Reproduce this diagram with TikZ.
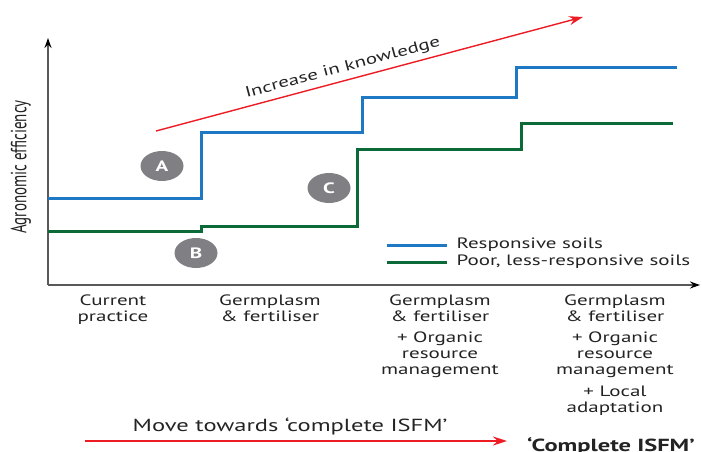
\documentclass[tikz,border=0pt]{standalone}
\usepackage{fontspec}
\setmainfont{PT Sans}[FakeStretch=1.4]
\newfontfamily\ylabfont{PT Sans}[FakeStretch=0.68]
\usetikzlibrary{shapes.geometric,arrows.meta}
\definecolor{respblue}{RGB}{30,120,196}
\definecolor{poorgreen}{RGB}{12,106,56}
\definecolor{knowred}{RGB}{237,28,36}
\definecolor{markgray}{RGB}{128,128,132}
\definecolor{inkgray}{RGB}{35,35,35}

\begin{document}
\begin{tikzpicture}[x=1pt,y=-1pt,
  every node/.style={text=inkgray,font=\fontsize{15}{16}\selectfont},
  axis/.style={draw=black!65,line width=1.5pt,-{Stealth[length=10pt,width=7pt,color=black]}},
  resp/.style={draw=respblue,line width=3pt},
  poor/.style={draw=poorgreen,line width=3pt},
  knowarrow/.style={draw=knowred,line width=1.4pt,-{Stealth[length=14pt,width=9pt]}},
  marker/.style={ellipse,fill=markgray,minimum width=43pt,minimum height=30pt,inner sep=0pt,text=white,font=\fontsize{15}{16}\selectfont\bfseries},
  stage/.style={anchor=north,align=center,inner sep=0pt}]
\useasboundingbox (0,0) rectangle (702,452);
\coordinate (O) at (48,285);
\coordinate (ytip) at (48,38);
\coordinate (xtip) at (700,285);
\draw[axis] (O) -- (ytip);
\draw[axis] (O) -- (xtip);
\node[rotate=90,font=\ylabfont\fontsize{22}{22}\selectfont] (ylab) at (21,167) {Agronomic efficiency};

\coordinate (r0) at (48,198);
\coordinate (r1) at (201,132);
\coordinate (r2) at (362,98);
\coordinate (r3) at (516,68);
\coordinate (r4) at (677,68);
\draw[resp] (r0) -| (r1) -| (r2) -| (r3) -- (r4);
\coordinate (p0) at (48,231);
\coordinate (p1) at (201,226);
\coordinate (p2) at (357,149);
\coordinate (p3) at (521,123);
\coordinate (p4) at (673,123);
\draw[poor] (p0) -| (p1) -| (p2) -| (p3) -- (p4);

\node[marker] (A) at (162,166) {A};
\node[marker] (B) at (196,253) {B};
\node[marker] (C) at (329,188) {C};

\coordinate (k0) at (156,131);
\coordinate (k1) at (583,17);
\draw[knowarrow] (k0) -- (k1) node[pos=0.445,sloped,above,inner sep=5pt] (know) {Increase in knowledge};

\coordinate (lr) at (387,245);
\coordinate (lp) at (387,262);
\draw[resp] (lr) -- ++(60,0) node[right,inner sep=8pt] (lgresp) {Responsive soils};
\draw[poor] (lp) -- ++(60,0) node[right,inner sep=8pt] (lgpoor) {Poor, less-responsive soils};

\node[stage] (s1) at (113,295) {Current\\practice};
\node[stage] (s2) at (270,295) {Germplasm\\\& fertiliser};
\node[stage] (s3) at (440,295) {Germplasm\\\& fertiliser\\[5pt]+ Organic\\resource\\management};
\node[stage] (s4) at (615,295) {Germplasm\\\& fertiliser\\[5pt]+ Organic\\resource\\management\\[6pt]+ Local\\adaptation};

\coordinate (mv) at (85,441);
\node[anchor=west,inner sep=0pt,font=\fontsize{17.5}{18}\selectfont\bfseries] (full) at (527,446) {‘Complete ISFM’};
\draw[knowarrow] (mv) -- ([xshift=-20pt]full.west |- mv) node[pos=0.486,above,inner sep=5pt,font=\fontsize{17.5}{18}\selectfont] (move) {Move towards ‘complete ISFM’};
\end{tikzpicture}
\end{document}
